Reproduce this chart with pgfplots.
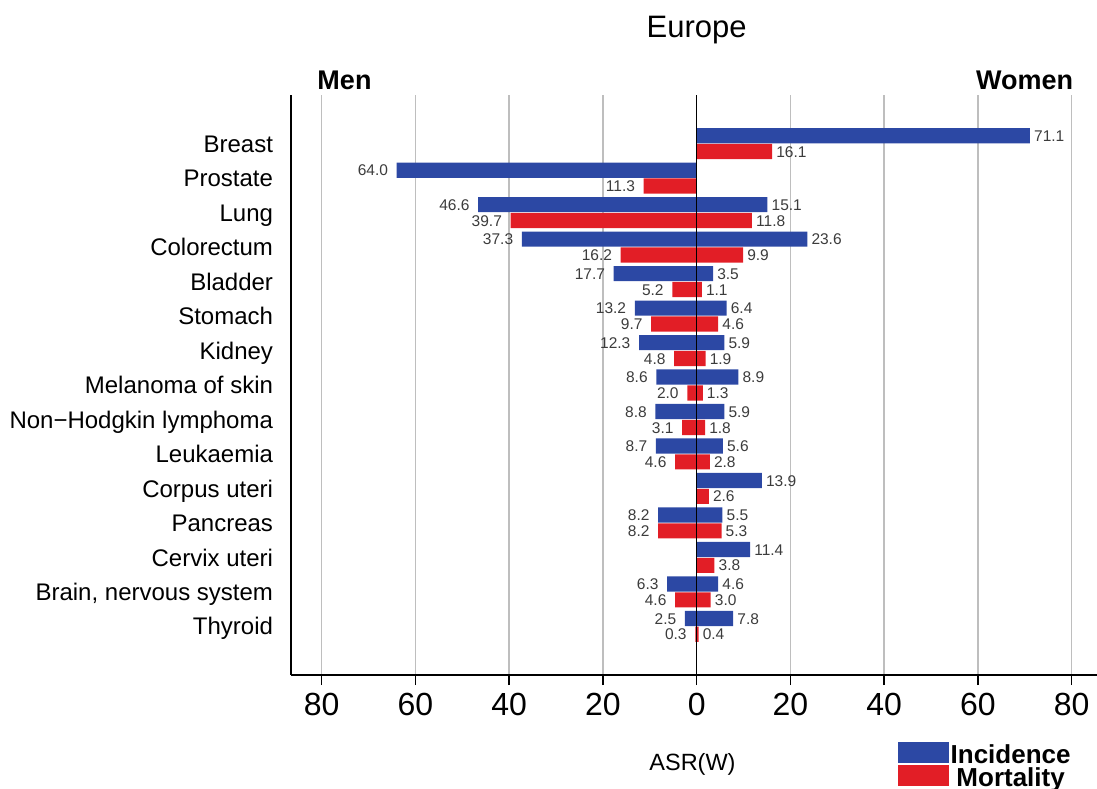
\documentclass[border=0pt]{standalone}
\usepackage{pgfplots}
\pgfplotsset{compat=1.18}
\usepackage{pgfplotstable}
\usepackage{fontspec}
\setmainfont{Liberation Sans}

\definecolor{incblue}{RGB}{44,72,164}
\definecolor{mortred}{RGB}{226,30,38}
\definecolor{gridgray}{RGB}{190,190,190}
\definecolor{numgray}{RGB}{60,60,60}

% pos = row of the site (0 = Breast ... 14 = Thyroid), value = ASR(W)
\pgfplotstableread{
pos value
0 71.1
2 15.1
3 23.6
4 3.5
5 6.4
6 5.9
7 8.9
8 5.9
9 5.6
10 13.9
11 5.5
12 11.4
13 4.6
14 7.8
}\womeninc
\pgfplotstableread{
pos value
0 16.1
2 11.8
3 9.9
4 1.1
5 4.6
6 1.9
7 1.3
8 1.8
9 2.8
10 2.6
11 5.3
12 3.8
13 3.0
14 0.4
}\womenmort
\pgfplotstableread{
pos value
1 64.0
2 46.6
3 37.3
4 17.7
5 13.2
6 12.3
7 8.6
8 8.8
9 8.7
11 8.2
13 6.3
14 2.5
}\meninc
\pgfplotstableread{
pos value
1 11.3
2 39.7
3 16.2
4 5.2
5 9.7
6 4.8
7 2.0
8 3.1
9 4.6
11 8.2
13 4.6
14 0.3
}\menmort

\begin{document}
\begin{tikzpicture}
\begin{axis}[
    scale only axis, width=805.8bp, height=580bp,
    xmin=-86.5, xmax=85.4, ymin=-1.41, ymax=15.41, y dir=reverse,
    clip=false,
    axis x line=bottom, axis y line=left,
    axis line style={-, line width=1.6bp},
    xtick={-80,-60,...,80}, xticklabels={80,60,40,20,0,20,40,60,80},
    xmajorgrids, grid style={gridgray, line width=1.4bp},
    tick align=outside, major tick length=10bp,
    xtick style={black, line width=1.4bp},
    xticklabel style={font=\fontsize{32bp}{32bp}\selectfont, inner sep=0pt,
      anchor=north, yshift=-8bp},
    ytick={0,...,14},
    yticklabels={Breast, Prostate, Lung, Colorectum, Bladder, Stomach, Kidney,
      Melanoma of skin, Non−Hodgkin lymphoma, Leukaemia, Corpus uteri, Pancreas,
      Cervix uteri, {Brain, nervous system}, Thyroid},
    ytick style={draw=none},
    yticklabel style={font=\fontsize{24bp}{26bp}\selectfont, inner sep=0pt,
      anchor=base east, xshift=-8bp, yshift=-8.6bp},
    /pgf/number format/assume math mode=true,
    xbar, bar width=0.44,
    legend image code/.code={\fill[#1] (0bp,-2.7bp) rectangle (51bp,18.3bp);},
    legend style={at={(0.753,-0.115)}, anchor=north west, draw=none, fill=none,
      inner sep=0pt, outer sep=0pt, row sep=-10.8bp, column sep=1.7bp,
      font=\bfseries\fontsize{26bp}{26bp}\selectfont,
      nodes={inner sep=0pt}},
    point meta=explicit,
    nodes near coords={\pgfmathprintnumber[fixed,fixed zerofill,precision=1]{\pgfplotspointmeta}},
    every node near coord/.append style={font=\fontsize{15.5bp}{16bp}\selectfont,
      text=numgray, inner sep=0pt},
]
\addplot[fill=incblue, draw=none, bar shift=-0.23,
    every node near coord/.append style={anchor=base west, xshift=4bp, yshift=-5.6bp}]
    table[x=value, y=pos, meta=value] {\womeninc};
\addlegendentry{\raisebox{11bp}{Incidence}}
\addplot[fill=mortred, draw=none, bar shift=0.23,
    every node near coord/.append style={anchor=base west, xshift=4bp, yshift=-5.6bp}]
    table[x=value, y=pos, meta=value] {\womenmort};
\addlegendentry{\raisebox{11bp}{Mortality}}
\addplot[forget plot, fill=incblue, draw=none, bar shift=-0.23,
    every node near coord/.append style={anchor=base east, xshift=-8.5bp, yshift=-5.6bp}]
    table[x expr=-\thisrow{value}, y=pos, meta=value] {\meninc};
\addplot[forget plot, fill=mortred, draw=none, bar shift=0.23,
    every node near coord/.append style={anchor=base east, xshift=-8.5bp, yshift=-5.6bp}]
    table[x expr=-\thisrow{value}, y=pos, meta=value] {\menmort};

\draw[black, line width=1.6bp] (axis cs:0,-1.41) -- (axis cs:0,15.41);

\node[anchor=base, font=\fontsize{31bp}{31bp}\selectfont, inner sep=0pt, yshift=57.7bp]
    at (axis description cs:0.5032,1) {Europe};
\node[anchor=base west, font=\bfseries\fontsize{27bp}{27bp}\selectfont, inner sep=0pt, yshift=5.7bp]
    at (axis description cs:0.0324,1) {Men};
\node[anchor=base east, font=\bfseries\fontsize{27bp}{27bp}\selectfont, inner sep=0pt, yshift=5.7bp]
    at (axis description cs:0.9706,1) {Women};
\node[anchor=base, font=\fontsize{23.5bp}{24bp}\selectfont, inner sep=0pt, yshift=-95.7bp]
    at (axis description cs:0.498,0) {ASR(W)};
\end{axis}
\pgfresetboundingbox
\path[use as bounding box] (current axis.south west) ++(-291.2bp,-114bp) rectangle ++(1097bp,789bp);
\end{tikzpicture}
\end{document}
